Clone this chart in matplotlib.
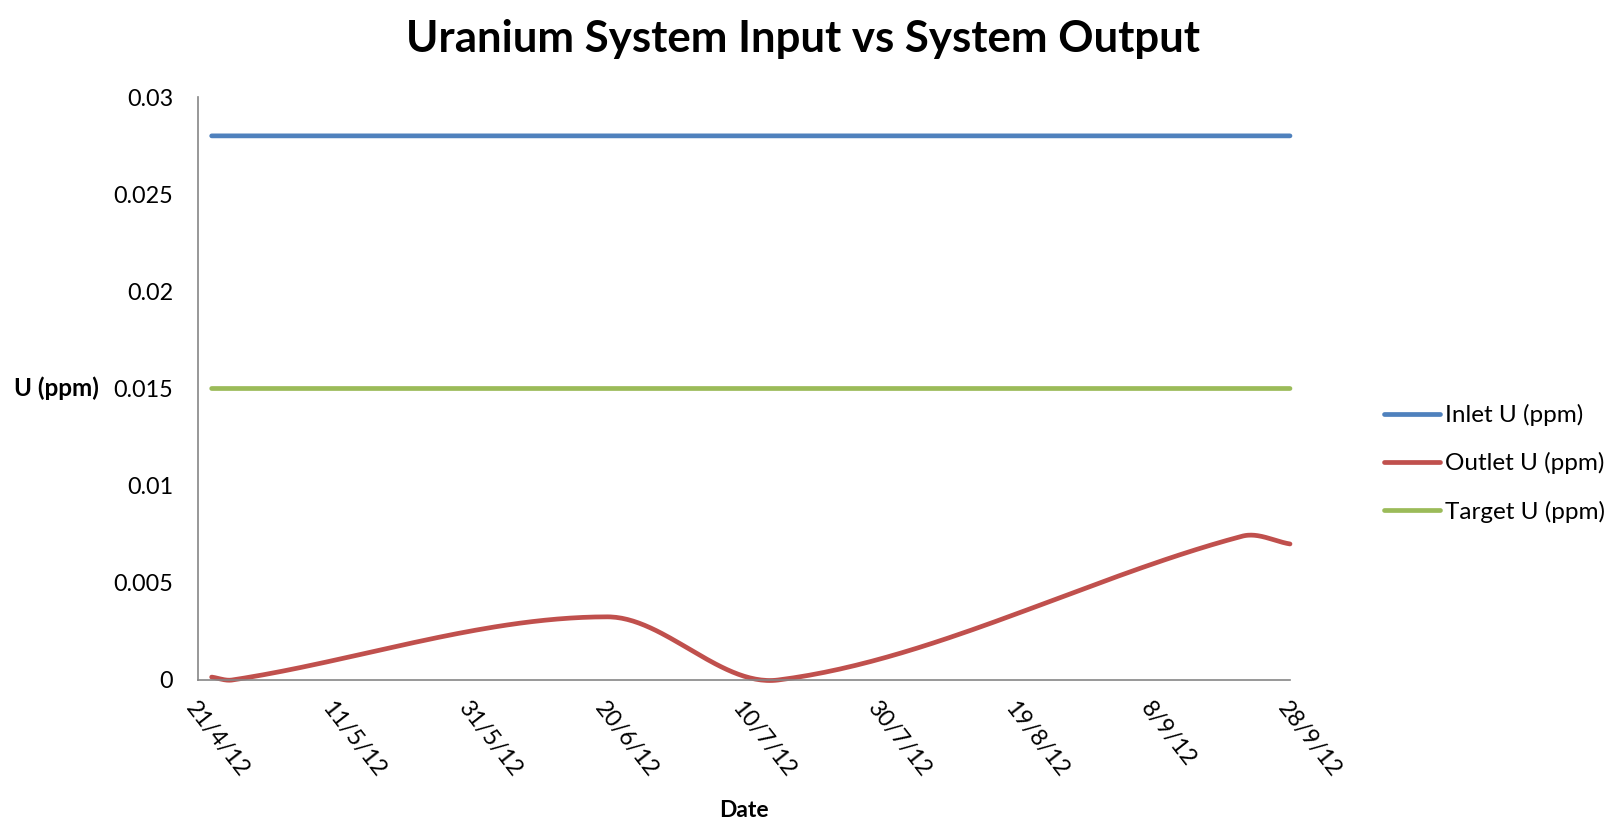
import numpy as np
import matplotlib.pyplot as plt
import matplotlib.dates as mdates
from datetime import datetime

plt.rcParams['font.family'] = ['Lato', 'DejaVu Sans']

#----------------------------------
# Datos
#----------------------------------

dates = ['2012-04-23', '2012-04-26', '2012-06-20', '2012-07-15', '2012-09-21', '2012-09-28']
inlet_u = [0.028, 0.028, 0.028, 0.028, 0.028, 0.028]
outlet_u = [0.00015, 0.0, 0.00325, 0.0, 0.0074, 0.0070]
target_u = [0.015, 0.015, 0.015, 0.015, 0.015, 0.015]

tick_dates = ['2012-04-21', '2012-05-11', '2012-05-31', '2012-06-20', '2012-07-10',
              '2012-07-30', '2012-08-19', '2012-09-08', '2012-09-28']
tick_labels = ['21/4/12', '11/5/12', '31/5/12', '20/6/12', '10/7/12',
               '30/7/12', '19/8/12', '8/9/12', '28/9/12']
y_ticks = [0, 0.005, 0.01, 0.015, 0.02, 0.025, 0.03]
y_labels = ['0', '0.005', '0.01', '0.015', '0.02', '0.025', '0.03']

series = [
    ("Inlet U (ppm)", inlet_u, "#4F81BD"),
    ("Outlet U (ppm)", outlet_u, "#C0504D"),
    ("Target U (ppm)", target_u, "#9BBB59"),
]

#----------------------------------
# Linea suavizada (como Excel)
#----------------------------------

def smooth(x, y, n=60):
    x = np.asarray(x, float)
    y = np.asarray(y, float)
    m = np.zeros_like(y)
    m[0] = (y[1] - y[0]) / (x[1] - x[0])
    m[-1] = (y[-1] - y[-2]) / (x[-1] - x[-2])
    m[1:-1] = (y[2:] - y[:-2]) / (x[2:] - x[:-2])
    xs, ys = [], []
    last = len(x) - 2
    for i in range(len(x) - 1):
        h = x[i + 1] - x[i]
        t = np.linspace(0, 1, n, endpoint=(i == last))
        h00 = 2 * t**3 - 3 * t**2 + 1
        h10 = t**3 - 2 * t**2 + t
        h01 = -2 * t**3 + 3 * t**2
        h11 = t**3 - t**2
        xs.append(x[i] + t * h)
        ys.append(h00 * y[i] + h10 * h * m[i] + h01 * y[i + 1] + h11 * h * m[i + 1])
    return np.concatenate(xs), np.round(np.concatenate(ys), 10)

x = mdates.date2num([datetime.strptime(d, '%Y-%m-%d') for d in dates])
xt = mdates.date2num([datetime.strptime(d, '%Y-%m-%d') for d in tick_dates])

#----------------------------------

fig = plt.figure(figsize=(16.14, 8.27), dpi=100)
ax = fig.add_axes([198 / 1614, 1 - 680 / 827, 1092 / 1614, 583 / 827])

for name, vals, col in series:
    sx, sy = smooth(x, vals)
    ax.plot(sx, sy, color=col, lw=3.4, solid_capstyle='round', solid_joinstyle='round',
            label=name, clip_on=False, snap=False)

ax.set_xlim(xt[0], xt[-1])
ax.set_ylim(0, 0.03)

ax.set_xticks(xt)
ax.set_xticklabels(tick_labels, rotation=-52, ha='left', va='top', rotation_mode='anchor')
ax.set_yticks(y_ticks)
ax.set_yticklabels(y_labels)
ax.tick_params(axis='both', length=0, labelsize=16.8)
ax.tick_params(axis='y', pad=18)
ax.tick_params(axis='x', pad=13)

for s in ['top', 'right']:
    ax.spines[s].set_visible(False)
for s in ['left', 'bottom']:
    ax.spines[s].set_color('#868686')
    ax.spines[s].set_linewidth(1.2)

ax.set_ylabel("U (ppm)", rotation=0, fontsize=17.5, fontweight='bold', ha='center', va='center')
ax.yaxis.set_label_coords(-0.130, 0.5)
ax.set_xlabel("Date", fontsize=16.5, fontweight='bold', va='center')
ax.xaxis.set_label_coords(0.5, -0.223)

fig.text(803 / 1614, 1 - 52 / 827, "Uranium System Input vs System Output",
         ha='center', va='baseline', fontsize=31.5, fontweight='bold')

fig.legend(loc='upper left', bbox_to_anchor=(1384 / 1614, 1 - 404 / 827),
           frameon=False, fontsize=17.5, borderpad=0, borderaxespad=0,
           handlelength=2.3, handletextpad=0.2, labelspacing=1.08)

fig.savefig('out.png', dpi=100)
